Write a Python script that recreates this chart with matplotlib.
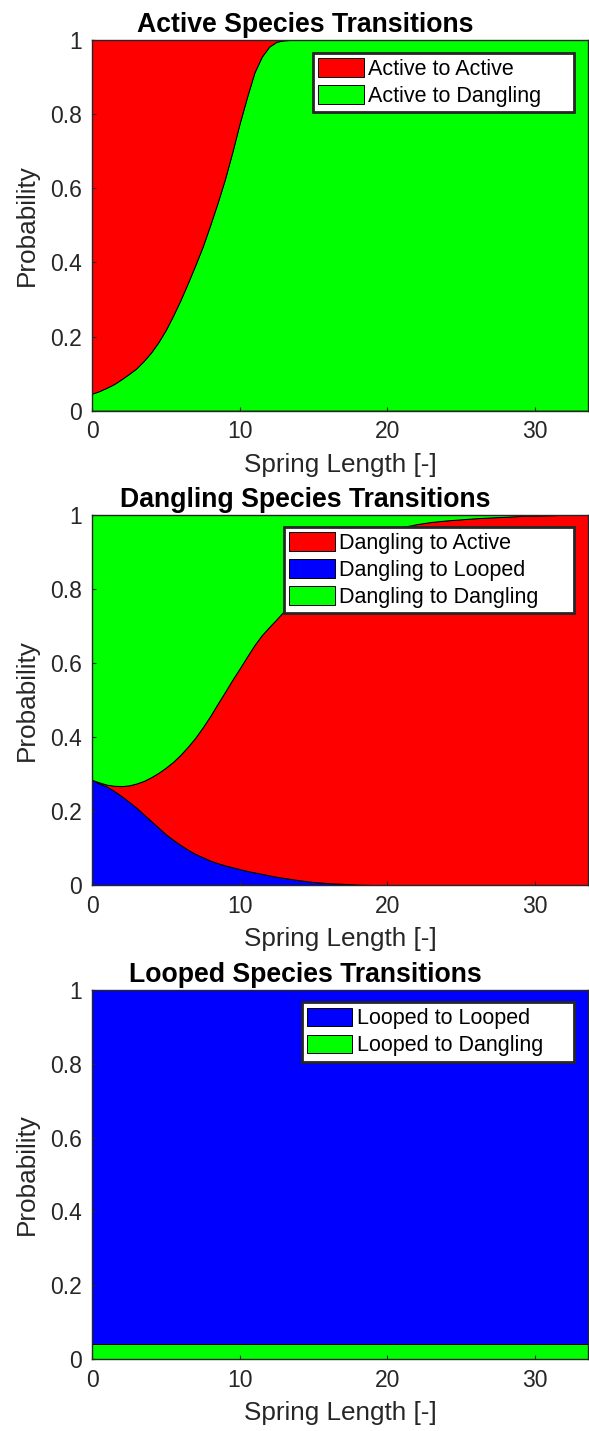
import matplotlib
matplotlib.use("Agg")
import matplotlib.pyplot as plt

plt.rcParams["font.family"] = ["Liberation Sans", "DejaVu Sans"]

# === Data ===
spring_length = [0, 0.5, 1, 1.5, 2, 2.5, 3, 3.5, 4, 4.5, 5, 5.5, 6, 6.5, 7, 7.5,
                 8, 8.5, 9, 9.5, 10, 10.5, 11, 11.5, 12, 12.5, 13, 13.5,
                 14, 15, 16, 17, 18, 19, 20, 21, 22, 23, 24, 25, 26, 27, 28, 29,
                 30, 31, 32, 33, 33.6]

# Active species
active_to_dangling = [0.046, 0.053, 0.062, 0.072, 0.085, 0.099, 0.114, 0.134, 0.157,
                      0.185, 0.218, 0.257, 0.299, 0.345, 0.393, 0.443, 0.500, 0.560,
                      0.624, 0.697, 0.775, 0.846, 0.912, 0.955, 0.982, 0.995, 0.999, 1.0,
                      1.0, 1.0, 1.0, 1.0, 1.0, 1.0, 1.0, 1.0, 1.0, 1.0, 1.0, 1.0, 1.0,
                      1.0, 1.0, 1.0, 1.0, 1.0, 1.0, 1.0, 1.0]
active_to_active = [0.954, 0.947, 0.938, 0.928, 0.915, 0.901, 0.886, 0.866, 0.843,
                    0.815, 0.782, 0.743, 0.701, 0.655, 0.607, 0.557, 0.500, 0.440,
                    0.376, 0.303, 0.225, 0.154, 0.088, 0.045, 0.018, 0.005, 0.001, 0.0,
                    0.0, 0.0, 0.0, 0.0, 0.0, 0.0, 0.0, 0.0, 0.0, 0.0, 0.0, 0.0, 0.0,
                    0.0, 0.0, 0.0, 0.0, 0.0, 0.0, 0.0, 0.0]

# Dangling species
dangling_to_looped = [0.284, 0.274, 0.266, 0.254, 0.240, 0.225, 0.209, 0.191, 0.173,
                      0.155, 0.137, 0.122, 0.108, 0.095, 0.084, 0.075, 0.066, 0.059,
                      0.053, 0.048, 0.043, 0.038, 0.034, 0.030, 0.026, 0.022, 0.019, 0.016,
                      0.013, 0.008, 0.005, 0.003, 0.001, 0.0, 0.0, 0.0, 0.0, 0.0, 0.0,
                      0.0, 0.0, 0.0, 0.0, 0.0, 0.0, 0.0, 0.0, 0.0, 0.0]
dangling_to_active = [0.000, 0.003, 0.005, 0.014, 0.027, 0.044, 0.065, 0.090, 0.118,
                      0.148, 0.180, 0.211, 0.244, 0.279, 0.314, 0.351, 0.390, 0.430,
                      0.468, 0.506, 0.542, 0.579, 0.614, 0.645, 0.671, 0.696, 0.721, 0.749,
                      0.777, 0.828, 0.868, 0.900, 0.925, 0.944, 0.957, 0.967, 0.975,
                      0.981, 0.985, 0.988, 0.991, 0.993, 0.995, 0.997, 0.998, 0.999,
                      1.0, 1.0, 1.0]
dangling_to_dangling = [0.716, 0.723, 0.729, 0.732, 0.733, 0.731, 0.726, 0.719, 0.709,
                        0.697, 0.683, 0.667, 0.648, 0.626, 0.602, 0.574, 0.544, 0.511,
                        0.479, 0.446, 0.415, 0.383, 0.352, 0.325, 0.303, 0.282, 0.260, 0.235,
                        0.210, 0.164, 0.127, 0.097, 0.074, 0.056, 0.043, 0.033, 0.025,
                        0.019, 0.015, 0.012, 0.009, 0.007, 0.005, 0.003, 0.002, 0.001,
                        0.0, 0.0, 0.0]

# Looped species (flat)
looped_to_dangling = [0.04] * len(spring_length)
looped_to_looped = [0.96] * len(spring_length)

RED, GREEN, BLUE = "#ff0000", "#00ff00", "#0000ff"
DARK = "#262626"

# === Figure layout (MATLAB-like stacked subplots) ===
fig = plt.figure(figsize=(5.89, 14.31), dpi=100)
positions = [
    [0.1562, 0.7130, 0.8421, 0.2591],
    [0.1562, 0.3816, 0.8421, 0.2586],
    [0.1562, 0.0503, 0.8421, 0.2579],
]
# legend boxes in axes fraction: (x0, top, width)
legend_boxes = [
    (0.4456, 0.965, 0.526),
    (0.387, 0.968, 0.585),
    (0.423, 0.967, 0.548),
]

panels = [
    ("Active Species Transitions",
     [active_to_dangling, active_to_active], [GREEN, RED],
     ["Active to Dangling", "Active to Active"], [1, 0]),
    ("Dangling Species Transitions",
     [dangling_to_looped, dangling_to_active, dangling_to_dangling], [BLUE, RED, GREEN],
     ["Dangling to Looped", "Dangling to Active", "Dangling to Dangling"], [1, 0, 2]),
    ("Looped Species Transitions",
     [looped_to_dangling, looped_to_looped], [GREEN, BLUE],
     ["Looped to Dangling", "Looped to Looped"], [1, 0]),
]

for pos, lbox, (title, series, colors, labels, order) in zip(positions, legend_boxes, panels):
    ax = fig.add_axes(pos)
    polys = ax.stackplot(spring_length, *series, colors=colors, labels=labels,
                         edgecolor="k", linewidth=0.7)
    ax.set_xlim(0, spring_length[-1])
    ax.set_ylim(0, 1)
    ax.set_xticks([0, 10, 20, 30])
    ax.set_yticks([0, 0.2, 0.4, 0.6, 0.8, 1])
    ax.set_yticklabels(["0", "0.2", "0.4", "0.6", "0.8", "1"])
    ax.tick_params(direction="in", length=3, width=0.8, colors=DARK,
                   labelsize=16.5, pad=7, top=False, right=False)
    for sp in ax.spines.values():
        sp.set_color(DARK)
        sp.set_linewidth(1.0)
        sp.set_zorder(3)
    ax.set_xlabel("Spring Length [-]", fontsize=18.8, color=DARK, labelpad=7)
    ax.set_ylabel("Probability", fontsize=18.8, color=DARK, labelpad=8)
    ax.set_title(title, fontsize=19.2, fontweight="bold", pad=6, x=0.43)

    handles = [polys[i] for i in order]
    x0, top, w = lbox
    leg = ax.legend(handles, [labels[i] for i in order], loc="upper left",
                    bbox_to_anchor=(x0, top - 0.3, w, 0.3), mode="expand",
                    borderaxespad=0, fontsize=15.5,
                    fancybox=False, framealpha=1, edgecolor=DARK,
                    handlelength=2.1, handleheight=0.95, handletextpad=0.2,
                    borderpad=0.25, labelspacing=0.25)
    leg.get_frame().set_linewidth(2.0)

fig.savefig("out.png", dpi=100)
